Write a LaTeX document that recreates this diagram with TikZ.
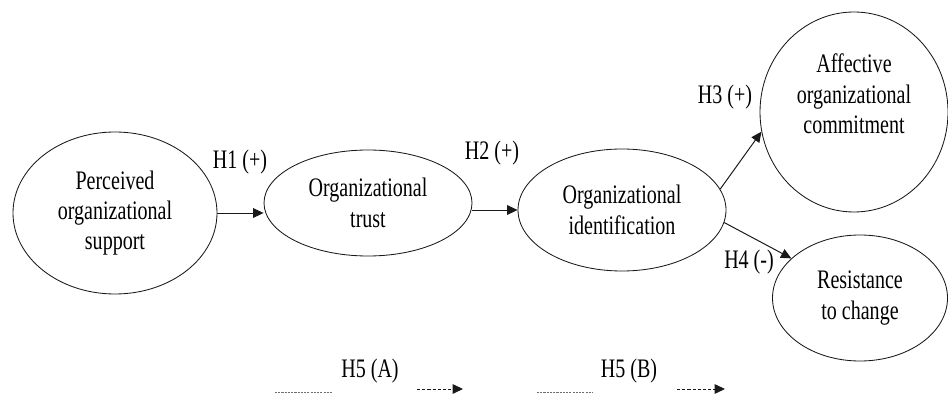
\documentclass[tikz,border=0pt]{standalone}
\usepackage{fontspec}
\setmainfont{Liberation Serif}[FakeStretch=0.75]
\usetikzlibrary{shapes.geometric,arrows.meta,calc}
\usepackage{xcolor}
\definecolor{Ink}{RGB}{25,25,25}
\definecolor{Faint}{RGB}{110,110,110}

\begin{document}
\begin{tikzpicture}[
    var/.style={ellipse,draw=Ink,line width=0.6pt,inner sep=0pt,
                font=\fontsize{19pt}{21.6pt}\selectfont,align=center},
    txt/.style={font=\fontsize{19pt}{21.6pt}\selectfont,align=center,inner sep=0pt},
    arr/.style={-{Triangle[length=2.6mm,width=2.4mm]},Ink,line width=0.7pt},
    legarr/.style={-{Triangle[length=2.6mm,width=2.4mm]},Ink,line width=0.6pt,
                   dash pattern=on 2.2pt off 1.5pt},
    legline/.style={Faint,line width=0.5pt,dash pattern=on 1.5pt off 0.8pt},
    lbl/.style={font=\fontsize{19pt}{21.6pt}\selectfont,inner sep=0pt}]

  \useasboundingbox (0,0) rectangle (23.7,9.9);

  % constructs
  \node[var,minimum width=5.1cm,minimum height=4.05cm] (pos) at (2.875,4.575)
       {Perceived\\organizational\\support};
  \node[var,minimum width=5.2cm,minimum height=2.65cm] (trust) at (9.2,4.825)
       {Organizational\\trust};
  \node[var,minimum width=5.2cm,minimum height=3.05cm] (ident) at (15.55,4.65)
       {Organizational\\identification};
  \node[var,minimum width=4.7cm,minimum height=5.0cm] (aoc) at (21.35,7.1) {};
  \node[txt] (aoctxt) at ($(aoc)+(0,0.45)$) {Affective\\organizational\\commitment};
  \node[var,minimum width=4.375cm,minimum height=3.15cm] (rtc) at (21.5,2.45)
       {Resistance\\to change};

  % hypotheses
  \draw[arr] (pos.east) -- (pos.east -| trust.west);
  \draw[arr] (ident.west -| trust.east) -- (ident.west);
  \draw[arr] (ident.12) -- (aoc.192);
  \draw[arr] (ident.-7) -- (rtc.150);

  \node[lbl] (h1) at (6.0,5.85) {H1 (+)};
  \node[lbl] (h2) at (12.3,6.075) {H2 (+)};
  \node[lbl] (h3) at (18.125,7.475) {H3 (+)};
  \node[lbl] (h4) at (18.725,3.35) {H4 (-)};

  % legend
  \node[lbl] (h5a) at (9.25,0.62) {H5 (A)};
  \node[lbl] (h5b) at (15.725,0.62) {H5 (B)};
  \coordinate (a1) at (6.875,0.1);  \coordinate (a2) at (8.3,0.1);
  \coordinate (a3) at (10.425,0.175); \coordinate (a4) at (11.575,0.175);
  \coordinate (b1) at (13.425,0.1); \coordinate (b2) at (14.8,0.1);
  \coordinate (b3) at (16.925,0.175); \coordinate (b4) at (18.125,0.175);
  \draw[legline] (a1) -- (a2);
  \draw[legarr] (a3) -- (a4);
  \draw[legline] (b1) -- (b2);
  \draw[legarr] (b3) -- (b4);
\end{tikzpicture}
\end{document}
